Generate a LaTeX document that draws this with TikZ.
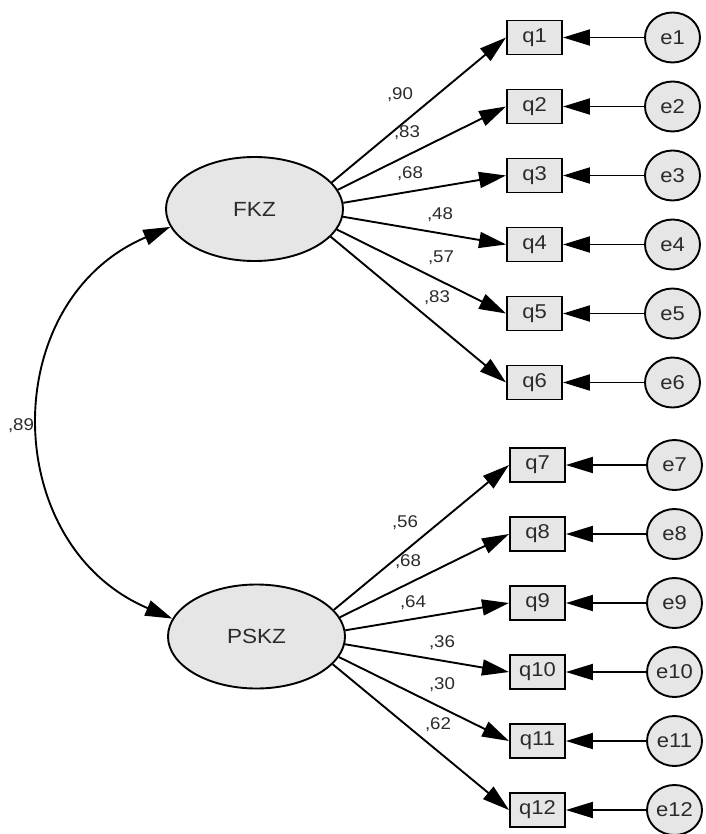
\documentclass[tikz,border=0pt]{standalone}
\usepackage{fontspec}
\setmainfont{Liberation Sans}[FakeStretch=1.1]
\usetikzlibrary{arrows.meta,shapes.geometric}
\definecolor{shapefill}{HTML}{E6E6E6}
\definecolor{txt}{HTML}{2B2B2B}
\begin{document}
\begin{tikzpicture}[x=1pt,y=1pt,
  line width=1.9pt,
  tip/.style={-{Triangle[length=27pt,width=16pt]}},
  dtip/.style={{Triangle[length=27pt,width=16pt]}-{Triangle[length=27pt,width=16pt]}},
  latent/.style={ellipse,draw,fill=shapefill,minimum width=177pt,minimum height=104pt,inner sep=0pt,text=txt,font=\fontsize{20.5}{23}\selectfont},
  obs/.style={rectangle,draw,fill=shapefill,minimum width=55pt,minimum height=34pt,inner sep=0pt,text=txt,font=\fontsize{20}{22}\selectfont},
  err/.style={ellipse,draw,fill=shapefill,minimum width=55pt,minimum height=50pt,inner sep=0pt,text=txt,font=\fontsize{20}{22}\selectfont},
  lbl/.style={text=txt,font=\fontsize{17}{19}\selectfont,inner sep=0pt}]
\useasboundingbox (0,0) rectangle (705,-834);

\node[latent] (FKZ) at (254.5,-209) {FKZ};
\node[latent] (PSKZ) at (256.5,-636.5) {PSKZ};

\foreach \i/\y in {1/37.5,2/106.5,3/175.5,4/244.5,5/313.5,6/382.5}{
  \node[obs] (q\i) at (534.5,-\y) {q\i};
  \node[err] (e\i) at (672.5,-\y) {e\i};
}
\foreach \i/\y in {7/465,8/534,9/603,10/672,11/741,12/810}{
  \node[obs] (q\i) at (537.5,-\y) {q\i};
  \node[err] (e\i) at (674.5,-\y) {e\i};
}

\foreach \i in {1,...,12}{
  \draw[tip] (e\i) -- (q\i);
}

\foreach \i/\a in {1/19.4,2/13.1,3/4.6,4/355,5/346.7,6/340.4}{
  \draw[tip] (FKZ.\a) -- (q\i.west);
}
\foreach \j/\a in {7/19.4,8/13.1,9/4.6,10/355,11/346.7,12/340.4}{
  \draw[tip] (PSKZ.\a) -- (q\j.west);
}

\draw[dtip] (FKZ.192) to[out=203,in=157,looseness=1.23] (PSKZ.168);

\node[lbl] (c89) at (21,-426) {,89};

\node[lbl] (l1) at (400,-95) {,90};
\node[lbl] (l2) at (407,-133) {,83};
\node[lbl] (l3) at (410,-174) {,68};
\node[lbl] (l4) at (440,-215) {,48};
\node[lbl] (l5) at (441,-258) {,57};
\node[lbl] (l6) at (437,-298) {,83};

\node[lbl] (l7) at (405,-523) {,56};
\node[lbl] (l8) at (408,-562) {,68};
\node[lbl] (l9) at (413,-603) {,64};
\node[lbl] (l10) at (442,-643) {,36};
\node[lbl] (l11) at (442,-685) {,30};
\node[lbl] (l12) at (438,-725) {,62};
\end{tikzpicture}
\end{document}
